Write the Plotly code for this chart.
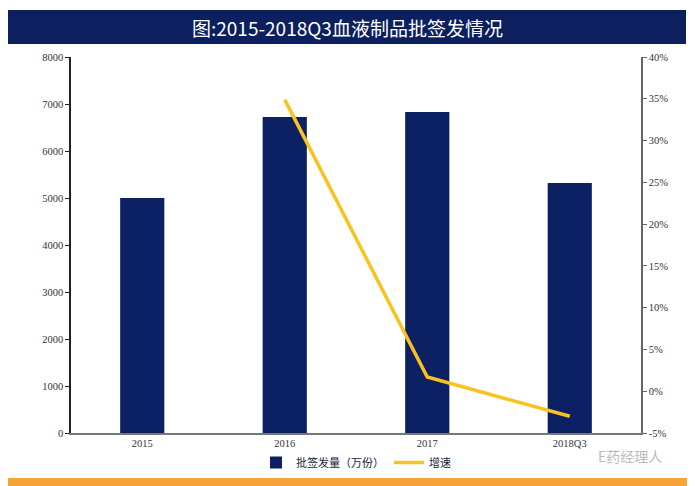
import plotly.graph_objects as go

categories = ["2015", "2016", "2017", "2018Q3"]
volume = [5000, 6725, 6830, 5320]          # 批签发量（万份）
growth_cats = ["2016", "2017", "2018Q3"]
growth = [34.9, 1.7, -3.0]                 # 增速 %

left_ticks = [0, 1000, 2000, 3000, 4000, 5000, 6000, 7000, 8000]
right_ticks = [-5, 0, 5, 10, 15, 20, 25, 30, 35, 40]
right_labels = [f"{v}%" for v in right_ticks]

navy = "#0B2163"
yellow = "#F9C31F"

O = 8  # page body offset
W, H = 695 - O, 486 - O
L, R, T, B = 71 - O, 641 - O, 57 - O, 433 - O
PW, PH = R - L, B - T

def px(x):
    return (x - O - L) / PW

def py(y):
    return (B - (y - O)) / PH

fig = go.Figure()
fig.add_trace(go.Bar(x=categories, y=volume, name="批签发量（万份）",
                     marker=dict(color=navy, line=dict(width=0)), width=0.31))
fig.add_trace(go.Scatter(x=growth_cats, y=growth, name="增速", yaxis="y2",
                         mode="lines", line=dict(color=yellow, width=3.5)))

tickfont = dict(family="Liberation Serif", size=10.5, color="#333333")
fig.update_layout(
    width=W, height=H,
    margin=dict(l=L, r=W - R, t=T, b=H - B, autoexpand=False),
    paper_bgcolor="white", plot_bgcolor="white",
    showlegend=True,
    legend=dict(orientation="h", x=0.5, xanchor="center", y=py(448), yanchor="top",
                font=dict(family="Noto Sans CJK SC", size=11, color="#1a1a3a"),
                bgcolor="rgba(0,0,0,0)", traceorder="normal"),
    xaxis=dict(showline=True, linecolor="#777777", linewidth=1.5, ticks="",
               tickfont=tickfont, showgrid=False, range=[-0.5, 3.5], automargin=False),
    yaxis=dict(range=[0, 8000], tickvals=left_ticks, showline=True, linecolor="#222222",
               linewidth=1.5, ticks="outside", ticklen=4, tickcolor="#222222",
               tickfont=tickfont, showgrid=False, zeroline=False, automargin=False),
    yaxis2=dict(range=[-5, 40], tickvals=right_ticks, ticktext=right_labels,
                overlaying="y", side="right", showline=True, linecolor="#666666",
                linewidth=1.5, ticks="outside", ticklen=4, tickcolor="#666666",
                tickfont=tickfont, showgrid=False, zeroline=False, automargin=False),
    shapes=[
        dict(type="rect", xref="paper", yref="paper", x0=px(7), x1=px(686),
             y0=py(44), y1=py(10), fillcolor="#0C1F5E", line=dict(width=0), layer="above"),
        dict(type="rect", xref="paper", yref="paper", x0=px(0), x1=px(695),
             y0=py(486), y1=py(478), fillcolor="#F6A33A", line=dict(width=0)),
    ],
    annotations=[
        dict(text="图:2015-2018Q3血液制品批签发情况", xref="paper", yref="paper",
             x=px(347), y=py(27), xanchor="center", yanchor="middle",
             showarrow=False, font=dict(family="Noto Sans CJK SC", size=19, color="white")),
        dict(text="E药经理人", xref="paper", yref="paper",
             x=px(630), y=py(456), xanchor="center", yanchor="middle",
             showarrow=False, font=dict(family="Noto Sans CJK SC", size=14, color="#bbbbbb")),
    ],
)

fig.write_html("out.html")
